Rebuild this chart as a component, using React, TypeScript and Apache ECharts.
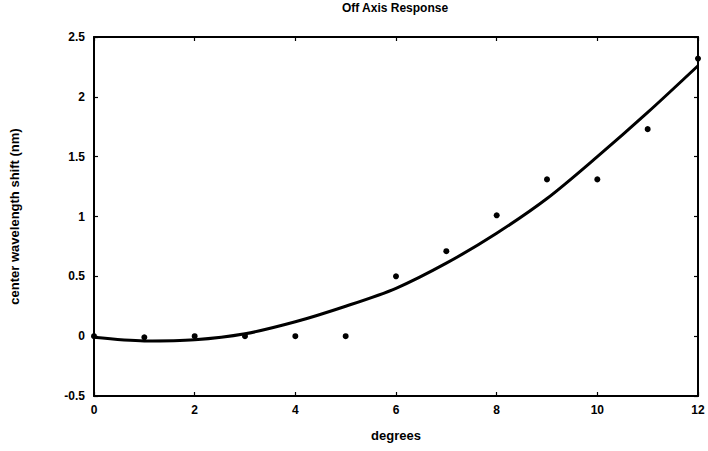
import React, { useEffect, useRef } from "react";
import * as echarts from "echarts";

// Measured off-axis shift at each angle
const degrees = [0, 1, 2, 3, 4, 5, 6, 7, 8, 9, 10, 11, 12];
const measuredShift = [0, -0.01, 0, 0, 0, 0, 0.5, 0.71, 1.01, 1.31, 1.31, 1.73, 2.32];
// Fitted curve through the measurements
const fittedShift = [-0.01, -0.04, -0.03, 0.02, 0.12, 0.25, 0.4, 0.61, 0.86, 1.15, 1.5, 1.87, 2.26];

const xTicks = [0, 2, 4, 6, 8, 10, 12];
const yTicks = [-0.5, 0, 0.5, 1, 1.5, 2, 2.5];

const FONT = "Liberation Sans";

export default function App() {
  const ref = useRef<HTMLDivElement>(null);

  useEffect(() => {
    if (!ref.current) return;
    const chart = echarts.init(ref.current, undefined, { renderer: "svg" });

    const axisLine = { show: true, onZero: false, lineStyle: { color: "#000", width: 2 } };
    const tick = { show: true, inside: true, length: 4, lineStyle: { color: "#000", width: 1.2 } };

    chart.setOption({
      animation: false,
      backgroundColor: "#fff",
      title: {
        text: "Off Axis Response",
        left: 395,
        top: 2,
        padding: 0,
        textAlign: "center",
        textStyle: { fontFamily: FONT, fontSize: 12, fontWeight: "bold", color: "#000" },
      },
      grid: { left: 93, right: 10, top: 37, bottom: 55 },
      xAxis: [
        {
          type: "value",
          position: "bottom",
          min: 0,
          max: 12,
          interval: 2,
          name: "degrees",
          nameLocation: "middle",
          nameGap: 33,
          nameTextStyle: { fontFamily: FONT, fontSize: 13, fontWeight: "bold", color: "#000" },
          axisLine,
          axisTick: tick,
          splitLine: { show: false },
          axisLabel: {
            fontFamily: FONT,
            fontSize: 12,
            fontWeight: "bold",
            color: "#000",
            margin: 8,
            customValues: xTicks,
          },
        },
        {
          type: "value",
          position: "top",
          min: 0,
          max: 12,
          interval: 2,
          axisLine,
          axisTick: tick,
          axisLabel: { show: false },
          splitLine: { show: false },
        },
      ],
      yAxis: [
        {
          type: "value",
          position: "left",
          min: -0.5,
          max: 2.5,
          interval: 0.5,
          name: "center wavelength shift (nm)",
          nameLocation: "middle",
          nameGap: 73,
          nameTextStyle: { fontFamily: FONT, fontSize: 13, fontWeight: "bold", color: "#000" },
          axisLine,
          axisTick: tick,
          splitLine: { show: false },
          axisLabel: {
            fontFamily: FONT,
            fontSize: 12,
            fontWeight: "bold",
            color: "#000",
            margin: 9,
            customValues: yTicks,
          },
        },
        {
          type: "value",
          position: "right",
          min: -0.5,
          max: 2.5,
          interval: 0.5,
          axisLine,
          axisTick: tick,
          axisLabel: { show: false },
          splitLine: { show: false },
        },
      ],
      series: [
        {
          name: "fit",
          type: "line",
          data: degrees.map((d, i) => [d, fittedShift[i]]),
          smooth: 0.3,
          showSymbol: false,
          lineStyle: { color: "#000", width: 3 },
          z: 2,
        },
        {
          name: "measured",
          type: "scatter",
          data: degrees.map((d, i) => [d, measuredShift[i]]),
          symbol: "circle",
          symbolSize: 6,
          itemStyle: { color: "#000", opacity: 1 },
          z: 3,
        },
      ],
    });

    return () => chart.dispose();
  }, []);

  return <div ref={ref} style={{ width: 708, height: 451, position: "fixed", left: 0, top: 0 }} />;
}
